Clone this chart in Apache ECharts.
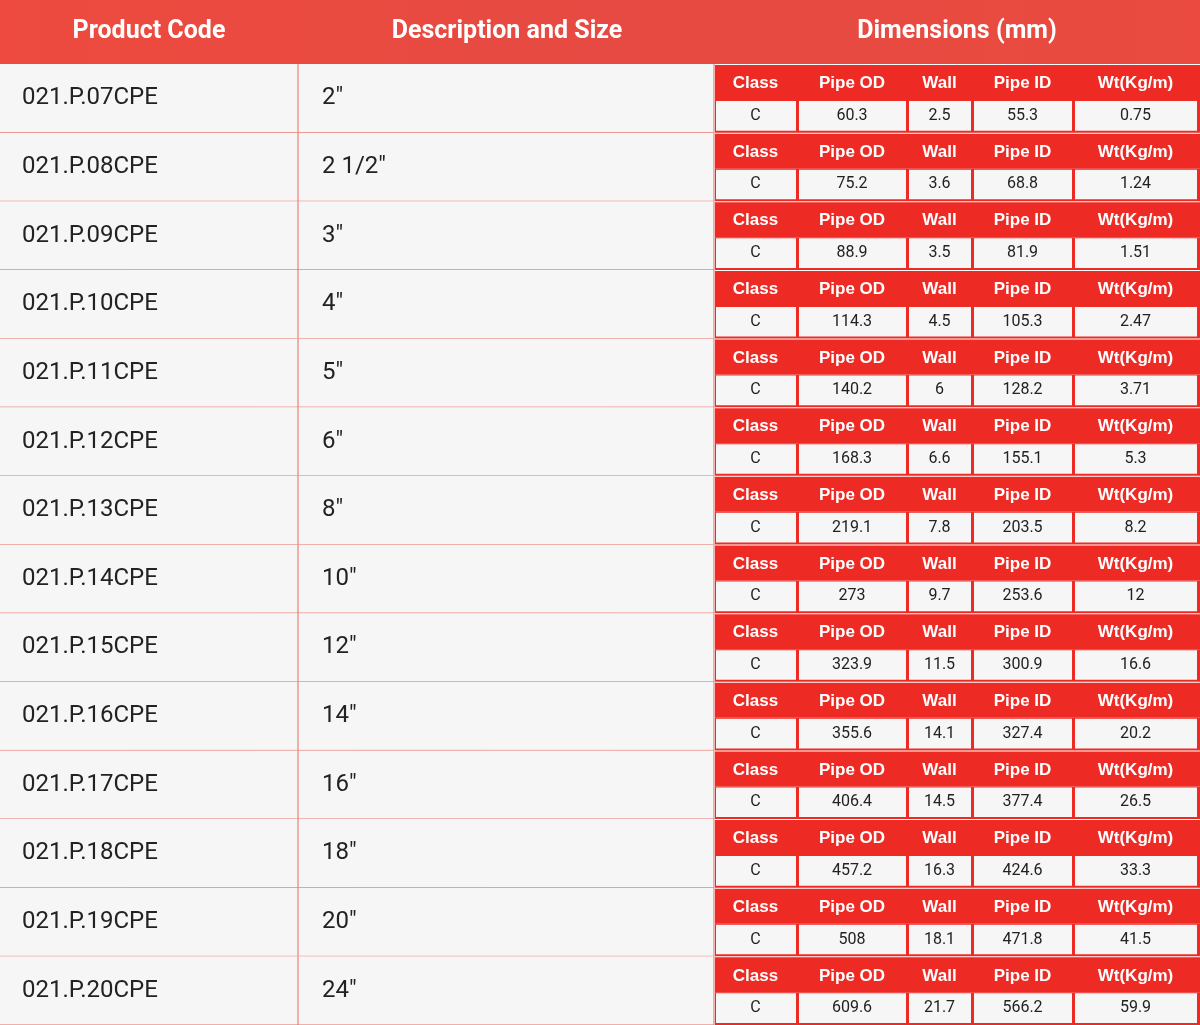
<!DOCTYPE html>
<html>
<head>
<meta charset="utf-8">
<script src="https://cdn.jsdelivr.net/npm/echarts@6/dist/echarts.min.js"></script>
<style>html,body{margin:0;padding:0;background:#fff}#main{width:1200px;height:1025px}</style>
</head>
<body>
<div id="main"></div>
<script>
var headers = ['Product Code', 'Description and Size', 'Dimensions (mm)'];
var subHeaders = ['Class', 'Pipe OD', 'Wall', 'Pipe ID', 'Wt(Kg/m)'];
var codes = ['021.P.07CPE','021.P.08CPE','021.P.09CPE','021.P.10CPE','021.P.11CPE','021.P.12CPE','021.P.13CPE','021.P.14CPE','021.P.15CPE','021.P.16CPE','021.P.17CPE','021.P.18CPE','021.P.19CPE','021.P.20CPE'];
var sizes = ['2"','2 1/2"','3"','4"','5"','6"','8"','10"','12"','14"','16"','18"','20"','24"'];
var classes = ['C','C','C','C','C','C','C','C','C','C','C','C','C','C'];
var pipeOD = ['60.3','75.2','88.9','114.3','140.2','168.3','219.1','273','323.9','355.6','406.4','457.2','508','609.6'];
var wall = ['2.5','3.6','3.5','4.5','6','6.6','7.8','9.7','11.5','14.1','14.5','16.3','18.1','21.7'];
var pipeID = ['55.3','68.8','81.9','105.3','128.2','155.1','203.5','253.6','300.9','327.4','377.4','424.6','471.8','566.2'];
var weight = ['0.75','1.24','1.51','2.47','3.71','5.3','8.2','12','16.6','20.2','26.5','33.3','41.5','59.9'];

var chart = echarts.init(document.getElementById('main'));
var els = [];
var font = 'Roboto, "Liberation Sans", sans-serif';
var headH = 64, rowH = (1025 - headH) / codes.length, subH = 35;
var colX = [0, 298, 714, 1200];
var subX = [714, 797, 907, 972, 1073, 1198];
var cols = [classes, pipeOD, wall, pipeID, weight];

els.push({type:'rect', shape:{x:0,y:0,width:1200,height:headH},
  style:{fill:new echarts.graphic.LinearGradient(0,0,1,0,[{offset:0,color:'#ee4a3f'},{offset:0.5,color:'#e64a42'},{offset:1,color:'#ea4a40'}])}});
[149, 507, 957].forEach(function(cx, i){
  els.push({type:'text', x:cx, y:headH/2, style:{text:headers[i], fill:'#fff', font:'bold 25px ' + font, align:'center', verticalAlign:'middle'}});
});

codes.forEach(function(code, r){
  var y = headH + r * rowH;
  els.push({type:'rect', shape:{x:0,y:y,width:714,height:rowH}, style:{fill:'#f6f6f6'}});
  els.push({type:'line', shape:{x1:0,y1:y+rowH,x2:714,y2:y+rowH}, style:{stroke:'#e8685f',lineWidth:1}});
  els.push({type:'line', shape:{x1:298,y1:y,x2:298,y2:y+rowH}, style:{stroke:'#e8685f',lineWidth:1}});
  els.push({type:'line', shape:{x1:714,y1:y,x2:714,y2:y+rowH}, style:{stroke:'#e8685f',lineWidth:1}});
  els.push({type:'text', x:22, y:y+rowH/2, style:{text:code, fill:'#222', font:'24px ' + font, verticalAlign:'middle'}});
  els.push({type:'text', x:322, y:y+rowH/2, style:{text:sizes[r], fill:'#222', font:'24px ' + font, verticalAlign:'middle'}});
  els.push({type:'rect', shape:{x:715,y:y+1,width:485,height:subH}, style:{fill:'#ee2a24'}});
  els.push({type:'rect', shape:{x:715,y:y+subH+1,width:485,height:rowH-subH-1}, style:{fill:'#ee2a24'}});
  for (var c = 0; c < 5; c++) {
    var x0 = subX[c], x1 = subX[c+1], cx = (x0 + x1) / 2;
    els.push({type:'text', x:cx, y:y+subH/2+2, style:{text:subHeaders[c], fill:'#fff', font:'bold 17px "Liberation Sans", Arial, sans-serif', align:'center', verticalAlign:'middle'}});
    els.push({type:'rect', shape:{x:x0+2,y:y+subH+2,width:x1-x0-3,height:rowH-subH-4}, style:{fill:'#f6f6f6'}});
    els.push({type:'text', x:cx, y:y+subH+(rowH-subH)/2, style:{text:cols[c][r], fill:'#222', font:'16px ' + font, align:'center', verticalAlign:'middle'}});
  }
});

chart.setOption({animation:false, graphic:{elements:els}});
</script>
</body>
</html>
